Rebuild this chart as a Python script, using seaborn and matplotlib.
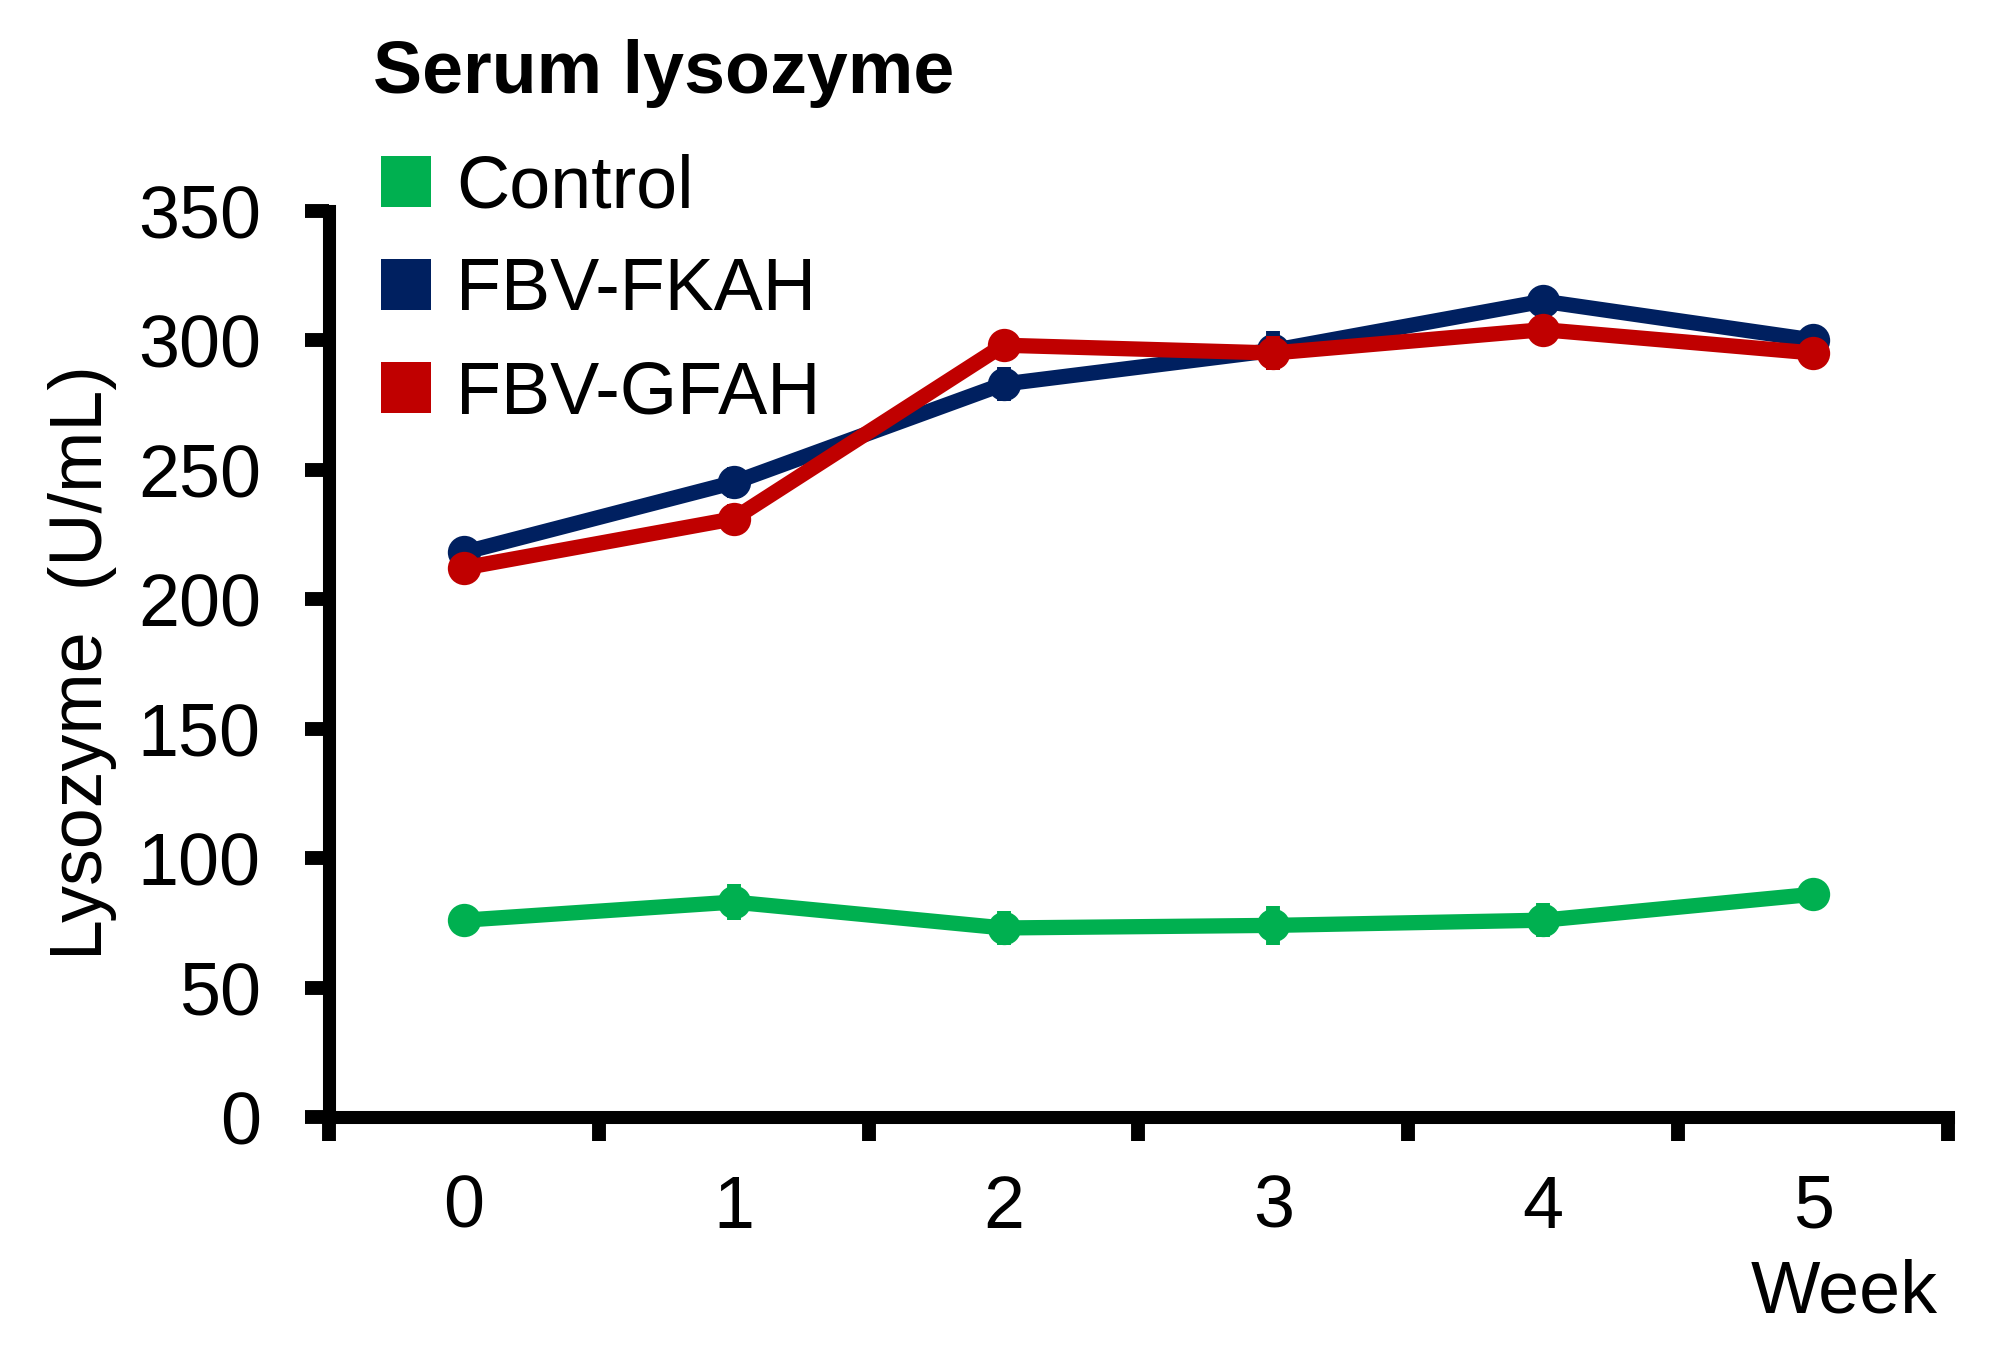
import matplotlib
matplotlib.use("Agg")
import matplotlib.pyplot as plt
from matplotlib.patches import Patch
import pandas as pd
import seaborn as sns

# datos (media y error por semana)
semanas = [0, 1, 2, 3, 4, 5]
grupos = ["Control", "FBV-FKAH", "FBV-GFAH"]
control = [76, 83, 73, 74, 76, 86]
fkah = [218, 245, 283, 296, 315, 300]
gfah = [212, 231, 298, 295, 304, 295]
err_control = [5, 7, 6.5, 7.5, 6.5, 5]
err_fkah = [5, 6, 6.5, 7.5, 5.5, 5]
err_gfah = [5, 5.5, 5.5, 6.5, 5.5, 5]
colores = ["#00B050", "#002060", "#C00000"]

df = pd.DataFrame({
    "semana": semanas * 3,
    "lisozima": control + fkah + gfah,
    "err": err_control + err_fkah + err_gfah,
    "grupo": [g for g in grupos for _ in semanas],
})

sns.set_style("ticks")
plt.rcParams["font.family"] = ["Liberation Sans", "DejaVu Sans"]
plt.rcParams["text.color"] = "black"
plt.rcParams["xtick.color"] = "black"
plt.rcParams["ytick.color"] = "black"
plt.rcParams["axes.labelcolor"] = "black"

fig = plt.figure(figsize=(19.91, 13.53), dpi=100)
ax = fig.add_axes([0.1652, 0.1744, 0.8132, 0.6700])

for g, c in zip(grupos, colores):
    sub = df[df["grupo"] == g]
    ax.errorbar(sub["semana"], sub["lisozima"], yerr=sub["err"], fmt="none",
                ecolor=c, elinewidth=10, capsize=0)
    sns.lineplot(data=sub, x="semana", y="lisozima", color=c, marker="o",
                 markersize=24, markeredgewidth=0, linewidth=11, ax=ax)

ax.set_xlim(-0.5, 5.5)
ax.set_ylim(0, 350)
ax.set_xlabel("")
ax.set_ylabel("")

# ticks del eje x en los limites de cada categoria, etiquetas en el centro
ax.set_xticks([-0.5, 0.5, 1.5, 2.5, 3.5, 4.5, 5.5])
ax.set_xticklabels([])
ax.set_xticks(semanas, minor=True)
ax.set_xticklabels([str(s) for s in semanas], minor=True)
ax.set_yticks(range(0, 351, 50))

ax.tick_params(axis="both", which="major", direction="out", length=17, width=10,
               color="black", labelsize=53, labelcolor="black")
ax.tick_params(axis="y", which="major", pad=32)
ax.tick_params(axis="x", which="minor", length=0, labelsize=53, pad=41,
               labelcolor="black")

sns.despine(ax=ax)
for s in ["left", "bottom"]:
    ax.spines[s].set_linewidth(9.4)
    ax.spines[s].set_color("black")

fig.text(0.1873, 0.931, "Serum lysozyme", fontsize=53, fontweight="bold",
         va="baseline", color="black")
fig.text(83 / 1991, 0.51, "Lysozyme  (U/mL)", fontsize=53, rotation=90,
         ha="center", va="center", color="black")
fig.text(1938 / 1991, 0.0303, "Week", fontsize=53, ha="right", va="baseline",
         color="black")

manijas = [Patch(facecolor=c, edgecolor="none") for c in colores]
fig.legend(manijas, grupos, loc="upper left", bbox_to_anchor=(0.1914, 0.8866),
           frameon=False, fontsize=53, handlelength=0.68, handleheight=0.68,
           handletextpad=0.34, labelspacing=0.46, borderpad=0, borderaxespad=0,
           labelcolor="black")

fig.savefig("out.png", dpi=100)
